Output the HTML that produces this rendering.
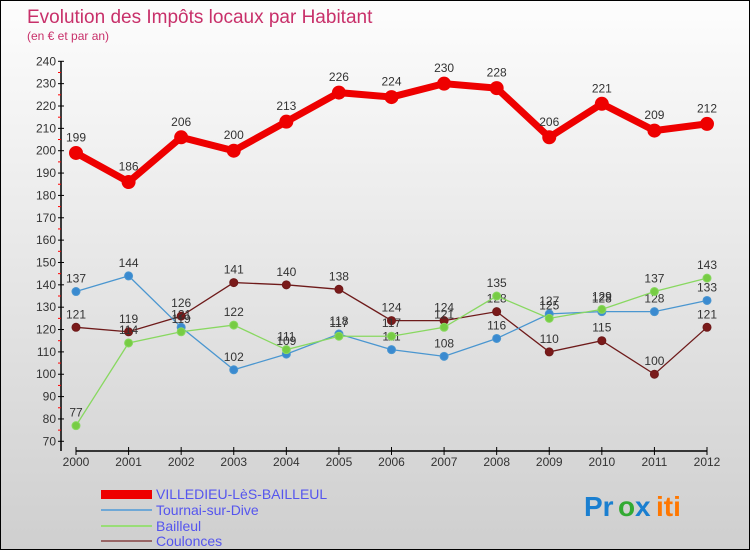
<!DOCTYPE html>
<html><head><meta charset="utf-8"><style>
html,body{margin:0;padding:0}
#wrap{position:relative;width:750px;height:550px;box-sizing:border-box;border:1px solid #000;background:linear-gradient(#fdfdfd,#cfcfcf);overflow:hidden;font-family:"Liberation Sans",sans-serif}
svg text{font-family:"Liberation Sans",sans-serif}
</style></head><body>
<div id="wrap">
<svg id="svg" width="750" height="550" viewBox="0 0 750 550">
<text x="26" y="22" font-size="19" fill="#c8306a">Evolution des Impôts locaux par Habitant</text>
<text x="26" y="39" font-size="12" fill="#c8306a">(en € et par an)</text>
<g id="axes"></g><g id="series"></g>
<g>
<rect x="100" y="489" width="51" height="9" fill="#e00"/>
<text x="155" y="498" font-size="14" fill="#5555ee">VILLEDIEU-LèS-BAILLEUL</text>
<rect x="100" y="508" width="51" height="2" fill="#6fa8d6"/>
<text x="155" y="514" font-size="14" fill="#5555ee">Tournai-sur-Dive</text>
<rect x="100" y="524" width="51" height="2" fill="#99dd77"/>
<text x="155" y="530" font-size="14" fill="#5555ee">Bailleul</text>
<rect x="100" y="539" width="51" height="2" fill="#996666"/>
<text x="155" y="545" font-size="14" fill="#5555ee">Coulonces</text>
</g>
<g font-size="28" font-weight="bold">
<text x="583" y="515" fill="#1a7fd0">Pr</text><text x="617" y="515" fill="#33aa33">o</text><text x="634" y="515" fill="#1a7fd0">x</text><text x="655" y="515" fill="#ff7700">iti</text>
</g>
</svg>
</div>
<script>
const years=[2000,2001,2002,2003,2004,2005,2006,2007,2008,2009,2010,2011,2012];
const yTicks=[70,80,90,100,110,120,130,140,150,160,170,180,190,200,210,220,230,240];
const villedieu=[199,186,206,200,213,226,224,230,228,206,221,209,212];
const tournai=[137,144,121,102,109,118,111,108,116,127,128,128,133];
const bailleul=[77,114,119,122,111,117,117,121,135,125,129,137,143];
const coulonces=[121,119,126,141,140,138,124,124,128,110,115,100,121];
const NS="http://www.w3.org/2000/svg";
function X(i){return 75+i*(706-75)/(years.length-1);}
function Y(v){return 440.3-(v-70)*(380/170);}
function mk(tag,attrs,parent){const e=document.createElementNS(NS,tag);for(const k in attrs)e.setAttribute(k,attrs[k]);parent.appendChild(e);return e;}
const ax=document.getElementById('axes');
let l=mk('line',{x1:60,y1:Y(240),x2:60,y2:450,stroke:'#000','stroke-width':1.5},ax);


l=mk('line',{x1:75,y1:450,x2:706,y2:450,stroke:'#000','stroke-width':1.5},ax);


yTicks.forEach(v=>{
  mk('line',{x1:57,x2:63,y1:Y(v),y2:Y(v),stroke:'#000'},ax);
  if(v<240)mk('line',{x1:57,x2:60,y1:Y(v+5),y2:Y(v+5),stroke:'#f00'},ax);
  const t=mk('text',{x:55,y:Y(v)+4,'font-size':12,'text-anchor':'end',fill:'#333'},ax);
  t.textContent=v;
  
  
});
years.forEach((yr,i)=>{
  mk('line',{x1:X(i),x2:X(i),y1:446,y2:454,stroke:'#000'},ax);
  const t=mk('text',{x:X(i),y:465,'font-size':12,'text-anchor':'middle',fill:'#333'},ax);
  t.textContent=yr;
  
  
});
const sg=document.getElementById('series');
function draw(name,data,color,dot,w,r){
  const g=mk('g',{},sg);
  
  
  const p=mk('polyline',{points:data.map((v,i)=>X(i)+','+Y(v)).join(' '),fill:'none',stroke:color,'stroke-width':w},g);
  
  
  data.forEach((v,i)=>{
    const c=mk('circle',{cx:X(i),cy:Y(v),r:r,fill:dot,stroke:color,'stroke-width':1},g);
    
    
    const t=mk('text',{x:X(i),y:Y(v)-r-5,'font-size':12,'text-anchor':'middle',fill:'#333'},g);
    t.textContent=v;
    
    
  });
}
draw('coulonces',coulonces,'#6e1a1a','#7a1a1a',1.3,4);
draw('tournai',tournai,'#4a96d0','#3a8ad0',1.3,4);
draw('bailleul',bailleul,'#88d860','#77cc44',1.3,4);
draw('villedieu',villedieu,'#ee0000','#ee0000',7,6.5);
</script>
</body></html>
